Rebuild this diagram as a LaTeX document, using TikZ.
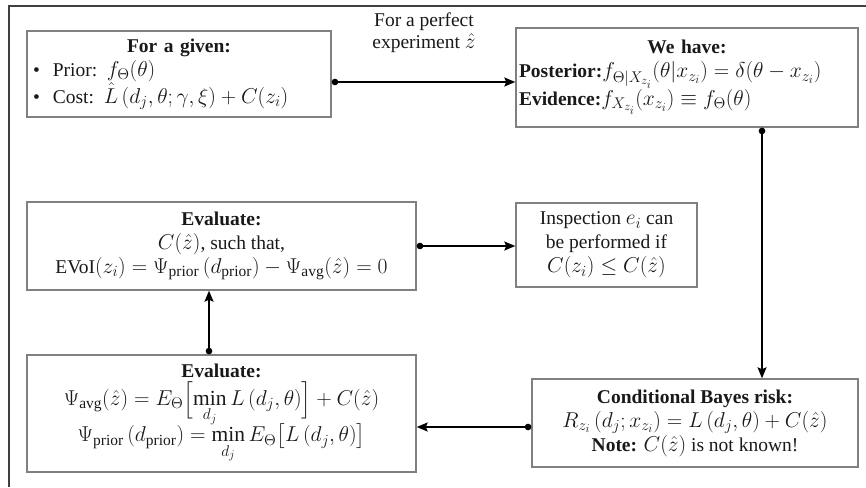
\RequirePackage{fix-cm}
\documentclass[tikz,border=0pt]{standalone}
\usepackage{amsmath}
\usepackage{fontspec}
\setmainfont{Liberation Serif}
\DeclareMathSizes{19.5}{21.5}{15.5}{12}
\usetikzlibrary{arrows.meta}
\tikzset{
  box/.style={draw=black!50, line width=1.4pt, rectangle, inner sep=2pt, font=\fontsize{19.5}{24}\selectfont, text=black!90},
  conn/.style={line width=1.8pt, draw=black, {Circle[length=6.5pt]}-{Stealth[length=11pt,width=9pt,inset=2pt]}},
  lbl/.style={font=\fontsize{19.5}{22}\selectfont, align=center, text=black!90}
}
\newcommand{\ctr}[1]{\makebox[\linewidth][c]{#1}}
\begin{document}
\begin{tikzpicture}[x=1pt,y=-1pt]
\useasboundingbox (0,0) rectangle (866,487);
\draw[line width=1.6pt, black!75] (9,487) -- (9,6) -- (866,6);

\node[box, minimum width=304, minimum height=86, text width=292pt, align=left] (given) at (179,74)
 {\ctr{\textbf{For a given:}}\\
  \textbullet\hspace{13pt}Prior: $f_\Theta(\theta)$\\
  \textbullet\hspace{13pt}Cost: $\hat{L}\left(d_j,\theta;\gamma,\xi\right)+C(z_i)$};

\node[box, minimum width=342, minimum height=99, text width=336pt, align=left] (have) at (687,77.5)
 {\ctr{\textbf{We have:}}\\
  \textbf{Posterior:}$f_{\Theta|X_{z_i}}\!\left(\theta\middle|x_{z_i}\right)=\delta(\theta-x_{z_i})$\\
  \textbf{Evidence:}$f_{X_{z_i}}(x_{z_i})\equiv f_\Theta(\theta)$};

\node[lbl] (perf) at (424,33) {For a perfect\\experiment $\hat z$};

\node[box, minimum width=389, minimum height=88, align=center] (evone) at (221.5,246)
 {\textbf{Evaluate:}\\
  $C(\hat z)$, such that,\\
  EVoI$(z_i)=\Psi_{\mathrm{prior}}\left(d_{\mathrm{prior}}\right)-\Psi_{\mathrm{avg}}(\hat z)=0$};

\node[box, minimum width=181, minimum height=84, align=center] (insp) at (606.5,245)
 {Inspection $e_i$ can\\be performed if\\$C(z_i)\le C(\hat z)$};

\node[box, minimum width=389, minimum height=117, inner sep=0pt, align=center, font=\fontsize{19.5}{20}\selectfont] (evtwo) at (221.5,413.5)
 {\textbf{Evaluate:}\\[2pt]
  $\Psi_{\mathrm{avg}}(\hat z)=E_\Theta\Bigl[\min\limits_{d_j}L\left(d_j,\theta\right)\Bigr]+C(\hat z)$\\[-4pt]
  $\Psi_{\mathrm{prior}}\left(d_{\mathrm{prior}}\right)=\min\limits_{d_j}E_\Theta\bigl[L\left(d_j,\theta\right)\bigr]$};

\node[box, minimum width=326, minimum height=88, align=center] (bayes) at (695,423)
 {\textbf{Conditional Bayes risk:}\\
  $R_{z_i}\left(d_j;x_{z_i}\right)=L\left(d_j,\theta\right)+C(\hat z)$\\
  \textbf{Note:} $C(\hat z)$ is not known!};

\draw[conn] ([yshift=-8pt]given.east) -- ([yshift=-8pt]given.east -| have.west);
\draw[conn] ([xshift=75pt]have.south) -- ([xshift=75pt]have.south |- bayes.north);
\draw[conn] ([yshift=-4pt]bayes.west) -- ([yshift=-4pt]bayes.west -| evtwo.east);
\draw[conn] ([xshift=-12.5pt]evtwo.north) -- ([xshift=-12.5pt]evtwo.north |- evone.south);
\draw[conn] (evone.east) -- (evone.east -| insp.west);
\end{tikzpicture}
\end{document}
